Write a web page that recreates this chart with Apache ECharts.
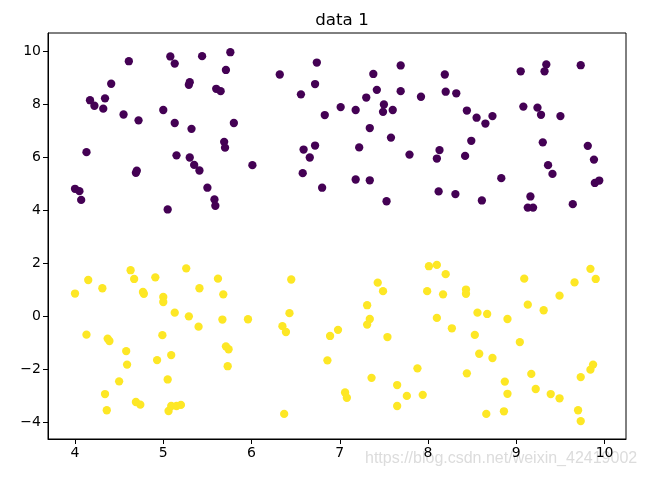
<!DOCTYPE html>
<html>
<head>
<meta charset="utf-8">
<script src="https://cdn.jsdelivr.net/npm/echarts@6/dist/echarts.min.js"></script>
<style>html,body{margin:0;padding:0;background:#fff}#c{width:646px;height:478px}</style>
</head>
<body>
<div id="c"></div>
<script>
var xTicks = [4, 5, 6, 7, 8, 9, 10];
var yTicks = [-4, -2, 0, 2, 4, 6, 8, 10];

var purpleX = [4.61,5.08,5.13,5.44,4.41,5.30,5.29,4.17,4.22,4.34,4.32,4.55,4.72,5.00,5.13,5.32,4.13,5.15,5.30,5.35,5.41,4.69,4.70,4.00,4.05,4.07,5.05,
  5.76,5.71,5.60,5.65,6.32,6.74,6.72,6.56,7.01,6.83,5.80,5.69,5.70,6.01,6.59,6.72,6.66,6.58,6.80,5.50,5.58,5.59,
  7.69,7.38,8.19,7.42,7.69,7.30,7.92,8.20,8.32,7.18,7.50,7.49,7.60,8.44,8.55,8.65,8.73,7.34,7.58,7.22,8.13,8.10,8.49,8.42,7.79,7.18,7.34,7.53,8.12,8.31,8.61,
  9.05,9.34,9.32,9.73,9.08,9.24,9.28,9.50,9.30,9.81,9.88,9.36,9.41,8.83,9.89,9.94,9.16,9.13,9.19,9.64];
var purpleY = [9.63,9.81,9.54,9.82,8.78,8.84,8.74,8.16,7.95,8.23,7.84,7.62,7.40,7.79,7.30,7.08,6.20,6.08,6.00,5.72,5.51,5.42,5.50,4.82,4.73,4.40,4.04,
  9.97,9.30,8.59,8.50,9.13,9.58,8.77,8.38,7.90,7.60,7.30,6.59,6.37,5.71,6.30,6.45,6.00,5.41,4.86,4.86,4.42,4.18,
  9.47,9.15,9.13,8.55,8.50,8.26,8.29,8.48,8.42,7.79,8.00,7.72,7.79,7.77,7.50,7.28,7.56,7.11,6.75,6.38,6.28,5.96,6.63,6.06,6.11,5.17,5.14,4.35,4.72,4.62,4.38,
  9.25,9.51,9.25,9.48,7.92,7.88,7.61,7.56,6.57,6.44,5.92,5.71,5.38,5.22,5.04,5.13,4.53,4.11,4.11,4.24];

var yellowX = [4.00,4.15,4.31,4.63,4.67,4.91,5.26,4.77,4.78,5.00,5.00,5.41,5.13,5.29,5.40,4.13,4.37,4.39,4.99,4.58,5.09,4.93,4.59,5.05,4.50,4.34,4.36,4.69,4.74,5.06,5.09,5.15,5.20,
  5.62,5.68,6.45,5.67,5.96,6.43,6.35,6.39,5.71,5.74,5.73,6.89,6.98,6.86,6.37,7.06,7.08,
  8.01,8.10,8.20,7.43,7.49,7.99,8.17,8.43,8.43,7.31,7.34,7.31,7.54,8.10,8.27,8.56,8.67,8.53,8.58,8.73,8.44,7.88,7.36,7.65,7.76,7.94,7.65,8.66,
  9.09,9.84,9.90,9.66,9.49,9.13,9.31,8.90,9.04,9.87,9.84,9.73,9.17,8.87,8.90,9.22,9.39,9.49,8.86,9.70,9.73];
var yellowY = [0.87,1.38,1.07,1.75,1.42,1.48,1.82,0.93,0.86,0.74,0.55,1.07,0.15,0.01,-0.38,-0.68,-0.83,-0.92,-0.70,-1.30,-1.45,-1.64,-1.81,-2.37,-2.44,-2.92,-3.53,-3.22,-3.32,-3.56,-3.37,-3.37,-3.33,
  1.43,0.84,1.40,-0.11,-0.10,0.13,-0.36,-0.58,-1.12,-1.23,-1.87,-0.73,-0.50,-1.65,-3.67,-2.86,-3.06,
  1.90,1.95,1.60,1.28,0.96,0.96,0.84,1.02,0.86,0.43,-0.09,-0.30,-0.77,-0.05,-0.44,0.15,0.10,-0.69,-1.40,-1.56,-2.14,-1.95,-2.31,-2.58,-2.99,-2.95,-3.37,-3.67,
  1.43,1.80,1.42,1.29,0.79,0.45,0.24,-0.09,-0.96,-1.81,-2.00,-2.28,-2.16,-2.45,-2.91,-2.73,-2.92,-3.08,-3.57,-3.53,-3.94];

function pairs(xs, ys) { return xs.map(function (x, i) { return [x, ys[i]]; }); }

var font = 'DejaVu Sans';
var chart = echarts.init(document.getElementById('c'), null, {renderer: 'canvas'});
var axisCommon = {
  axisLine: {show: true, onZero: false, lineStyle: {color: '#000', width: 1}},
  axisTick: {show: true, inside: false, length: 5, lineStyle: {color: '#000', width: 1}},
  splitLine: {show: false},
  axisLabel: {color: '#000', fontFamily: font, fontSize: 14, margin: 7,
    formatter: function (v) { return String(v).replace('-', '\u2212'); }}
};
chart.setOption({
  animation: false,
  backgroundColor: '#fff',
  title: {text: 'data 1', left: 337, top: 7, textAlign: 'center',
    textStyle: {fontFamily: font, fontSize: 16.7, fontWeight: 'normal', color: '#000'}},
  grid: {left: 48, right: 20, top: 33, bottom: 39, show: true, borderColor: '#000', borderWidth: 1},
  xAxis: Object.assign({}, axisCommon, {
    type: 'value', min: 3.694, max: 10.243,
    axisTick: Object.assign({}, axisCommon.axisTick, {customValues: xTicks}),
    axisLabel: Object.assign({}, axisCommon.axisLabel, {customValues: xTicks})
  }),
  yAxis: Object.assign({}, axisCommon, {
    type: 'value', min: -4.615, max: 10.694,
    axisTick: Object.assign({}, axisCommon.axisTick, {customValues: yTicks}),
    axisLabel: Object.assign({}, axisCommon.axisLabel, {customValues: yTicks})
  }),
  graphic: [{type: 'text', left: 365, top: 451,
    style: {text: 'https://blog.csdn.net/weixin_42419002', fill: '#dcdcdc', font: '16px "Liberation Sans"'}}],
  series: [
    {type: 'scatter', data: pairs(purpleX, purpleY), symbolSize: 8.3,
      itemStyle: {color: '#440154', opacity: 1}},
    {type: 'scatter', data: pairs(yellowX, yellowY), symbolSize: 8.3,
      itemStyle: {color: '#fde725', opacity: 1}}
  ]
});
</script>
</body>
</html>
